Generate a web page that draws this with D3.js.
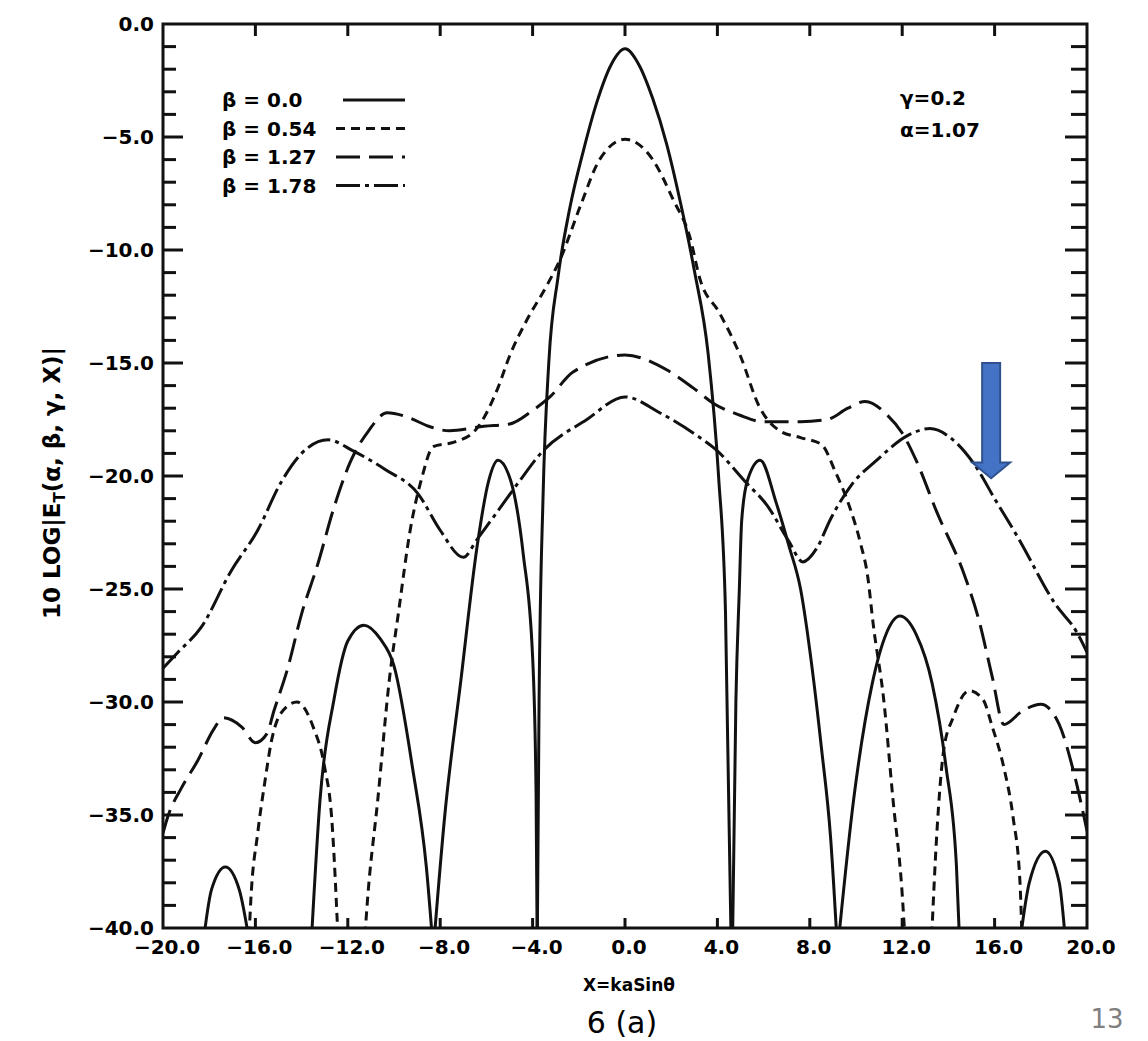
<!DOCTYPE html>
<html>
<head>
<meta charset="utf-8">
<script src="https://cdn.jsdelivr.net/npm/d3@7"></script>
<style>
  body { margin: 0; background: #fff; }
  text { font-family: "DejaVu Sans", sans-serif; }
</style>
</head>
<body>
<svg id="chart" width="1148" height="1041"></svg>
<script>
// tick values
const xTicks = [-20, -16, -12, -8, -4, 0, 4, 8, 12, 16, 20]
const yTicks = [0, -5, -10, -15, -20, -25, -30, -35, -40]

// each series is a list of pieces [x, y]; pieces break where the curve drops below -40
const beta000 = [
  [[-18.3,-41],[-17.9,-38.3],[-17.3,-37.3],[-16.7,-38.3],[-16.2,-41]],
  [[-13.6,-41],[-13.2,-34.3],[-12.6,-29.9],[-12.0,-27.3],[-11.3,-26.6],[-10.6,-27.2],[-10.0,-28.4],[-9.2,-32.9],[-8.6,-37.3],[-8.3,-41]],
  [[-8.3,-41],[-7.8,-35],[-7.1,-29],[-6.4,-23.1],[-5.9,-20.2],[-5.5,-19.3],[-4.95,-20.2],[-4.4,-23.5],[-4.0,-28],[-3.85,-34],[-3.8,-41]],
  [[-3.8,-41],[-3.72,-30],[-3.55,-21],[-3.3,-15],[-2.9,-11.2],[-2.4,-8.2],[-1.8,-5.6],[-1.2,-3.4],[-0.6,-1.8],[0,-1.1],[0.6,-1.8],[1.2,-3.3],[1.8,-5.3],[2.4,-7.9],[3.0,-10.9],[3.6,-14.6],[4.05,-20],[4.35,-26],[4.6,-41]],
  [[4.65,-41],[4.8,-30],[4.95,-25],[5.05,-22],[5.3,-20.2],[5.85,-19.3],[6.55,-21.2],[7.1,-23.1],[7.6,-25],[8.1,-28.5],[8.5,-32],[8.9,-36],[9.2,-41]],
  [[9.2,-41],[9.9,-34.3],[10.7,-29.2],[11.3,-27],[11.9,-26.2],[12.6,-27],[13.3,-29.2],[13.9,-32.9],[14.35,-37.3],[14.5,-41]],
  [[17.05,-41],[17.5,-38],[18.2,-36.6],[18.8,-38],[19.1,-41]]
]

const beta054 = [
  [[-16.3,-41],[-16.2,-38.8],[-15.9,-35.8],[-15.6,-33.6],[-15.3,-31.7],[-14.9,-30.5],[-14.2,-30.0],[-13.5,-31.1],[-13.0,-32.9],[-12.7,-35.1],[-12.4,-41]],
  [[-11.3,-41],[-11.15,-38.8],[-10.7,-34.3],[-10.2,-29],[-9.8,-26],[-9.3,-22.4],[-8.8,-20.1],[-8.3,-18.7],[-7.4,-18.5],[-6.5,-18.0],[-5.5,-16.1],[-5.0,-14.7],[-4.25,-13.1],[-3.4,-11.6],[-2.8,-10.4],[-1.95,-8.1],[-1.1,-6.0],[0,-5.1],[1.2,-6.0],[2.1,-7.8],[2.8,-9.4],[3.25,-11.3],[4.1,-12.8],[5.0,-14.7],[5.8,-16.9],[6.7,-18.0],[7.6,-18.3],[8.5,-18.6],[9.1,-19.8],[9.7,-21.3],[10.2,-23],[10.5,-24.4],[10.75,-26.6],[11.2,-29.9],[11.6,-34.3],[12.0,-38.5],[12.15,-41]],
  [[13.25,-41],[13.5,-35.8],[13.8,-32.1],[14.2,-30.7],[14.9,-29.5],[15.5,-29.9],[15.9,-31.1],[16.4,-32.9],[16.8,-35.1],[17.1,-38],[17.2,-41]]
]

const beta127 = [
  [[-20,-35.8],[-19.8,-35.1],[-19.2,-33.8],[-18.5,-32.6],[-17.8,-31.2],[-17.4,-30.7],[-16.6,-31.1],[-16.0,-31.8],[-15.5,-31.4],[-15.2,-30.4],[-14.6,-28.5],[-14.0,-26.1],[-13.3,-23.9],[-12.6,-21.4],[-11.9,-19.4],[-11.1,-18.0],[-10.3,-17.2],[-9.4,-17.4],[-8.5,-17.8],[-7.6,-18.0],[-6.1,-17.8],[-5.0,-17.7],[-4.0,-17.1],[-3.25,-16.5],[-2.25,-15.4],[0,-14.65],[1.8,-15.3],[2.95,-16.1],[3.85,-16.8],[4.95,-17.3],[6.0,-17.6],[7.6,-17.6],[8.75,-17.5],[9.65,-17.0],[10.4,-16.7],[11.35,-17.3],[12.0,-18.1],[12.6,-19.3],[13.5,-21.6],[14.7,-24.4],[15.3,-26.3],[15.9,-28.9],[16.4,-31.0],[17.2,-30.4],[18.0,-30.1],[18.8,-31.0],[19.4,-33],[20,-35.7]]
]

const beta178 = [
  [[-20,-28.5],[-19.35,-27.8],[-18.35,-26.7],[-17.05,-24.2],[-15.9,-22.4],[-14.9,-20.3],[-14.0,-19.0],[-12.85,-18.4],[-11.75,-18.9],[-10.4,-19.7],[-8.95,-20.8],[-8.0,-22.4],[-7.0,-23.6],[-6.4,-22.8],[-5.4,-21.4],[-4.55,-20.2],[-3.65,-19.0],[-1.65,-17.5],[0,-16.5],[1.5,-17.2],[3.1,-18.2],[3.9,-18.8],[5.25,-20.3],[6.15,-21.3],[7.1,-22.9],[7.7,-23.8],[8.3,-23.2],[8.9,-21.9],[9.8,-20.4],[10.9,-19.3],[12.25,-18.2],[13.2,-17.9],[14.2,-18.4],[15.2,-19.6],[16.0,-21.0],[17.0,-22.7],[18.65,-25.7],[19.55,-26.9],[20,-27.8]]
]

const seriesNames = ['β = 0.0', 'β = 0.54', 'β = 1.27', 'β = 1.78']
const seriesDash = [null, '9,6', '24,9', '24,5,4,5']
const allSeries = [beta000, beta054, beta127, beta178]

const svg = d3.select('#chart')
const mLeft = 163, mRight = 1087, mTop = 24, mBottom = 928

const x = d3.scaleLinear().domain([-20, 20]).range([mLeft, mRight])
const y = d3.scaleLinear().domain([-40, 0]).range([mBottom, mTop])

svg.append('defs').append('clipPath').attr('id', 'plot')
  .append('rect')
  .attr('x', mLeft).attr('y', mTop)
  .attr('width', mRight - mLeft).attr('height', mBottom - mTop)

const line = d3.line()
  .x(d => x(d[0]))
  .y(d => y(d[1]))
  .curve(d3.curveMonotoneX)

const curves = svg.append('g').attr('clip-path', 'url(#plot)')
allSeries.forEach((s, i) => {
  curves.selectAll(null)
    .data(s)
    .join('path')
      .attr('d', line)
      .attr('fill', 'none')
      .attr('stroke', '#111')
      .attr('stroke-width', 3)
      .attr('stroke-dasharray', seriesDash[i])
})

// frame and ticks
const axes = svg.append('g').attr('stroke', '#111').attr('stroke-width', 3)
axes.append('rect')
  .attr('x', mLeft).attr('y', mTop)
  .attr('width', mRight - mLeft).attr('height', mBottom - mTop)
  .attr('fill', 'none')

const minor = d3.range(-39, 0)
axes.selectAll('.ly').data(minor).join('line')
  .attr('x1', mLeft).attr('x2', d => mLeft + (d % 5 === 0 ? 20 : 13))
  .attr('y1', d => y(d)).attr('y2', d => y(d))
axes.selectAll('.ry').data(minor).join('line')
  .attr('x1', mRight).attr('x2', d => mRight - (d % 5 === 0 ? 22 : 16))
  .attr('y1', d => y(d)).attr('y2', d => y(d))
axes.selectAll('.tx').data(xTicks.slice(1, -1)).join('line')
  .attr('x1', d => x(d)).attr('x2', d => x(d))
  .attr('y1', mTop).attr('y2', mTop + 12)
axes.selectAll('.bx').data(xTicks.slice(1, -1)).join('line')
  .attr('x1', d => x(d)).attr('x2', d => x(d))
  .attr('y1', mBottom).attr('y2', mBottom - 10)

const fmt = d3.format('.1f')
svg.append('g').selectAll('text').data(yTicks).join('text')
  .attr('x', mLeft - 9).attr('y', d => y(d) + 7)
  .attr('text-anchor', 'end')
  .attr('font-size', 20).attr('font-weight', 'bold')
  .text(d => fmt(d))

svg.append('g').selectAll('text').data(xTicks).join('text')
  .attr('x', d => x(d) + 4).attr('y', mBottom + 26)
  .attr('text-anchor', 'middle')
  .attr('font-size', 20).attr('font-weight', 'bold')
  .text(d => fmt(d))

// axis titles
const yTitle = svg.append('text')
  .attr('transform', `translate(60, 483) rotate(-90)`)
  .attr('text-anchor', 'middle')
  .attr('font-size', 23).attr('font-weight', 'bold')
yTitle.append('tspan').text('10 LOG|E')
yTitle.append('tspan').attr('font-size', 15).attr('dy', 5).text('T')
yTitle.append('tspan').attr('dy', -5).text('(α, β, γ, X)|')

svg.append('text')
  .attr('x', 629).attr('y', 991)
  .attr('text-anchor', 'middle')
  .attr('font-size', 17).attr('font-weight', 'bold')
  .text('X=kaSinθ')

svg.append('text')
  .attr('x', 622).attr('y', 1033)
  .attr('text-anchor', 'middle')
  .attr('font-family', '"Liberation Sans", Arial, sans-serif')
  .attr('font-size', 30)
  .text('6 (a)')

svg.append('text')
  .attr('x', 1107).attr('y', 1028)
  .attr('text-anchor', 'middle')
  .attr('font-family', '"Open Sans", sans-serif')
  .attr('font-size', 26)
  .attr('fill', '#808080')
  .text('13')

// legend
const legend = svg.append('g')
seriesNames.forEach((name, i) => {
  const ly = 100 + i * 28.5
  legend.append('text')
    .attr('x', 222).attr('y', ly + 7)
    .attr('font-size', 20).attr('font-weight', 'bold')
    .text(name)
  legend.append('line')
    .attr('x1', i === 0 ? 343 : 336).attr('x2', 405)
    .attr('y1', ly).attr('y2', ly)
    .attr('stroke', '#111').attr('stroke-width', 3)
    .attr('stroke-dasharray', seriesDash[i])
})

svg.append('text')
  .attr('x', 900).attr('y', 105)
  .attr('font-size', 20).attr('font-weight', 'bold')
  .text('γ=0.2')
svg.append('text')
  .attr('x', 900).attr('y', 137)
  .attr('font-size', 20).attr('font-weight', 'bold')
  .text('α=1.07')

// blue marker arrow pointing at the β=1.78 curve
const ax = x(15.85), aTop = y(-15), aBase = y(-19.4), aTip = y(-20.1)
svg.append('path')
  .attr('d', `M${ax - 9},${aTop} H${ax + 9} V${aBase} H${ax + 19} L${ax},${aTip} L${ax - 19},${aBase} H${ax - 9} Z`)
  .attr('fill', '#4472c4')
  .attr('stroke', '#2f528f')
  .attr('stroke-width', 2)
</script>
</body>
</html>
